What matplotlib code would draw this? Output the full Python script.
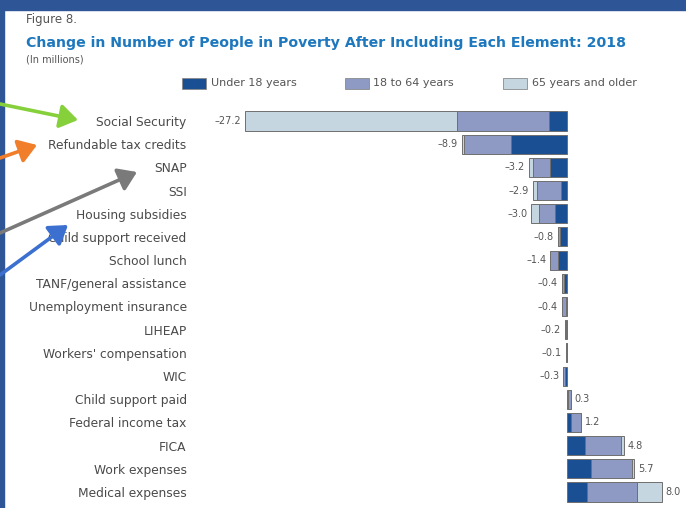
import numpy as np
import matplotlib
matplotlib.use("Agg")
import matplotlib.pyplot as plt
from matplotlib.patches import Rectangle, FancyArrowPatch

# Data (millions of people)
categories = [
    "Social Security", "Refundable tax credits", "SNAP", "SSI",
    "Housing subsidies", "Child support received", "School lunch",
    "TANF/general assistance", "Unemployment insurance", "LIHEAP",
    "Workers' compensation", "WIC", "Child support paid",
    "Federal income tax", "FICA", "Work expenses", "Medical expenses",
]
under18 = [-1.5, -4.7, -1.4, -0.5, -1.0, -0.6, -0.8, -0.25, -0.1, -0.05, -0.02, -0.2,
           0.05, 0.3, 1.5, 2.0, 1.7]
age18_64 = [-7.8, -4.0, -1.5, -2.0, -1.4, -0.2, -0.6, -0.15, -0.3, -0.1, -0.08, -0.1,
            0.25, 0.9, 3.1, 3.5, 4.2]
age65 = [-17.9, -0.2, -0.3, -0.4, -0.6, 0.0, 0.0, 0.0, 0.0, -0.05, 0.0, 0.0,
         0.0, 0.0, 0.2, 0.2, 2.1]
totals = [-27.2, -8.9, -3.2, -2.9, -3.0, -0.8, -1.4, -0.4, -0.4, -0.2, -0.1, -0.3,
          0.3, 1.2, 4.8, 5.7, 8.0]

series = [("Under 18 years", under18, "#1B4F93"),
          ("18 to 64 years", age18_64, "#8E9AC4"),
          ("65 years and older", age65, "#C6D6E1")]

W, H = 686, 508
fig = plt.figure(figsize=(W / 100, H / 100), dpi=100)
fig.patch.set_facecolor("white")

# frame: blue top band and left edge
fig.patches.append(Rectangle((0, 1 - 10 / H), 1, 10 / H, transform=fig.transFigure,
                             color="#2E5596", zorder=0))
fig.patches.append(Rectangle((0, 0), 4 / W, 1, transform=fig.transFigure,
                             color="#2E5596", zorder=0))

# axes positioned so that 0 sits at x=567 px and rows run 121..492 px
px_per_unit = 11.84
ax_l, ax_r = 195, 686
ax_t, ax_b = 108, 505
ax = fig.add_axes([ax_l / W, 1 - ax_b / H, (ax_r - ax_l) / W, (ax_b - ax_t) / H])
ax.set_xlim((ax_l - 567) / px_per_unit, (ax_r - 567) / px_per_unit)
row = (492 - 121) / 16
ax.set_ylim(16 + (ax_b - 492) / row, -(121 - ax_t) / row)

y = np.arange(len(categories))
left = np.zeros(len(categories))
for name, vals, col in series:
    vals = np.array(vals)
    ax.barh(y, vals, left=left, height=0.82, color=col, edgecolor="#6F6F6F",
            linewidth=0.7, label=name)
    left = left + vals

for i, t in enumerate(totals):
    if t < 0:
        ax.text(left[i] - 0.35, i, f"{t:.1f}".replace("-", "\u2013"), ha="right",
                va="center", fontsize=7, color="#555555")
    else:
        ax.text(left[i] + 0.35, i, f"{t:.1f}", ha="left", va="center",
                fontsize=7, color="#555555")

ax.set_yticks(y)
ax.set_yticklabels(categories, fontsize=8.8, color="#4A4A4A")
ax.tick_params(axis="y", length=0, pad=6)
ax.set_xticks([])
for s in ax.spines.values():
    s.set_visible(False)

# headings
fig.text(26 / W, 1 - 20 / H, "Figure 8.", fontsize=8.5, color="#555555", va="center")
fig.text(26 / W, 1 - 43 / H,
         "Change in Number of People in Poverty After Including Each Element: 2018",
         fontsize=10.2, fontweight="bold", color="#1E78BE", va="center")
fig.text(26 / W, 1 - 59 / H, "(In millions)", fontsize=7, color="#555555", va="center")

# legend drawn by hand to match placement
legend_items = [(182, 211), (345, 373), (503, 532)]
for (px, tx), (name, _, col) in zip(legend_items, series):
    fig.patches.append(Rectangle((px / W, 1 - 89 / H), 24 / W, 11 / H,
                                 transform=fig.transFigure, facecolor=col,
                                 edgecolor="#8A8A8A", linewidth=0.6))
    fig.text(tx / W, 1 - 83.5 / H, name, fontsize=8, color="#555555", va="center")

# coloured arrows on the left
arrows = [((0, 104), (78, 120), "#86D03C"),
          ((0, 158), (37, 145), "#F07E2A"),
          ((0, 233), (137, 172), "#7A7A7A"),
          ((0, 275), (68, 225), "#3B6FD0")]
for (x0, y0), (x1, y1), col in arrows:
    fig.patches.append(FancyArrowPatch((x0 / W, 1 - y0 / H), (x1 / W, 1 - y1 / H),
                                       transform=fig.transFigure,
                                       arrowstyle="-|>,head_length=6,head_width=4",
                                       color=col, linewidth=2.6, mutation_scale=1.8,
                                       shrinkA=0, shrinkB=0))

fig.savefig("out.png", dpi=100)
